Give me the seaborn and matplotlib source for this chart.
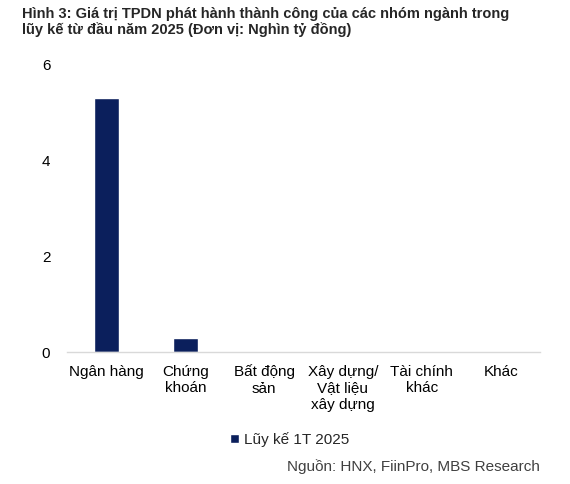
import pandas as pd
import seaborn as sns
import matplotlib.pyplot as plt

categories = ['Ngân hàng', 'Chứng\nkhoán', 'Bất động\nsản', 'Xây dựng/\nVật liệu\nxây dựng', 'Tài chính\nkhác', 'Khác']
values = [5.3, 0.29, 0, 0, 0, 0]
series_name = 'Lũy kế 1T 2025'

df = pd.DataFrame({'category': categories, 'value': values, 'series': series_name})

sns.set_style('white')
plt.rcParams['font.family'] = ['Liberation Sans', 'DejaVu Sans']

fig = plt.figure(figsize=(5.7, 4.84), dpi=100)
ax = fig.add_axes([0.1175, 0.2727, 0.83, 0.595])

sns.barplot(data=df, x='category', y='value', hue='series', palette=['#0b1f5c'],
            width=0.32, saturation=1, ax=ax)

ax.set_ylim(0, 6)
ax.set_yticks([0, 2, 4, 6])
ax.set_xlabel('')
ax.set_ylabel('')
ax.tick_params(axis='both', labelsize=11, length=0, colors='black')
ax.tick_params(axis='y', pad=12)
ax.tick_params(axis='x', pad=9)
for lbl in ax.get_xticklabels():
    lbl.set_linespacing(1.25)
for s in ['top', 'right', 'left']:
    ax.spines[s].set_visible(False)
ax.spines['bottom'].set_color('#d9d9d9')
ax.spines['bottom'].set_linewidth(1)

ax.legend(loc='upper center', bbox_to_anchor=(0.47, -0.23), frameon=False,
          fontsize=11, handlelength=0.6, handleheight=0.6, handletextpad=0.3)

fig.text(0.038, 0.985, 'Hình 3: Giá trị TPDN phát hành thành công của các nhóm ngành trong\nlũy kế từ đầu năm 2025 (Đơn vị: Nghìn tỷ đồng)',
         ha='left', va='top', fontsize=10.5, fontweight='bold', color='#262626', linespacing=1.1)
fig.text(0.947, 0.037, 'Nguồn: HNX, FiinPro, MBS Research', ha='right', va='center',
         fontsize=11, color='#404040')

fig.savefig('out.png', dpi=100)
